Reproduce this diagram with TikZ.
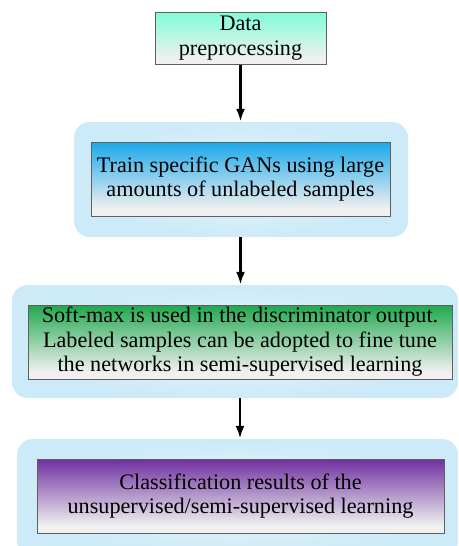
\documentclass[tikz,border=0pt]{standalone}
\usepackage{fontspec}
\setmainfont{Liberation Serif}
\usetikzlibrary{arrows.meta}
\definecolor{boxbot}{RGB}{240,240,240}
\definecolor{topA}{RGB}{128,252,214}
\definecolor{topB}{RGB}{27,168,234}
\definecolor{topC}{RGB}{32,168,78}
\definecolor{topD}{RGB}{112,48,160}
\definecolor{haloout}{RGB}{204,234,247}
\definecolor{haloin}{RGB}{236,248,253}
\definecolor{boxline}{RGB}{95,95,95}
\pgfdeclareverticalshading{shA}{100bp}{color(0bp)=(boxbot); color(30bp)=(boxbot); color(75bp)=(topA); color(100bp)=(topA)}
\pgfdeclareverticalshading{shB}{100bp}{color(0bp)=(boxbot); color(30bp)=(boxbot); color(75bp)=(topB); color(100bp)=(topB)}
\pgfdeclareverticalshading{shC}{100bp}{color(0bp)=(boxbot); color(30bp)=(boxbot); color(75bp)=(topC); color(100bp)=(topC)}
\pgfdeclareverticalshading{shD}{100bp}{color(0bp)=(boxbot); color(30bp)=(boxbot); color(75bp)=(topD); color(100bp)=(topD)}
\begin{document}
\begin{tikzpicture}[x=1pt,y=-1pt,
  halo/.style={rectangle, rounded corners=16pt, inner color=haloin, outer color=haloout, inner sep=0pt},
  stepbox/.style={rectangle, draw=boxline, line width=1pt, inner sep=0pt, align=center,
    font=\fontsize{22.2pt}{24.5pt}\selectfont},
  flow/.style={line width=2.5pt, -{Latex[length=13pt,width=9pt]}}]
\clip (0,0) rectangle (458,546);
\fill[white] (0,0) rectangle (458,546);
% halos
\node[halo, minimum width=334pt, minimum height=115pt] (h2) at (241,179.5) {};
\node[halo, minimum width=446pt, minimum height=113pt] (h3) at (235,341.5) {};
\node[halo, minimum width=441pt, minimum height=118pt] (h4) at (237.5,498) {};
% boxes
\node[stepbox, shading=shA, minimum width=171pt, minimum height=52pt] (b1) at (240.5,38) {Data\\preprocessing};
\node[stepbox, shading=shB, minimum width=299pt, minimum height=74pt] (b2) at (240.5,179) {Train specific GANs using large\\amounts of unlabeled samples};
\node[stepbox, shading=shC, minimum width=424pt, minimum height=74pt] (b3) at (240,342) {Soft-max is used in the discriminator output.\\Labeled samples can be adopted to fine tune\\the networks in semi-supervised learning};
\node[stepbox, shading=shD, minimum width=407pt, minimum height=74pt] (b4) at (240.5,496) {Classification results of the\\unsupervised/semi-supervised learning};
% arrows
\draw[flow] (b1.south) -- (b1.south |- h2.north);
\draw[flow] (b2.south |- h2.south) -- (b2.south |- h3.north);
\draw[flow] (b3.south |- h3.south) -- (b3.south |- h4.north);
\end{tikzpicture}
\end{document}
